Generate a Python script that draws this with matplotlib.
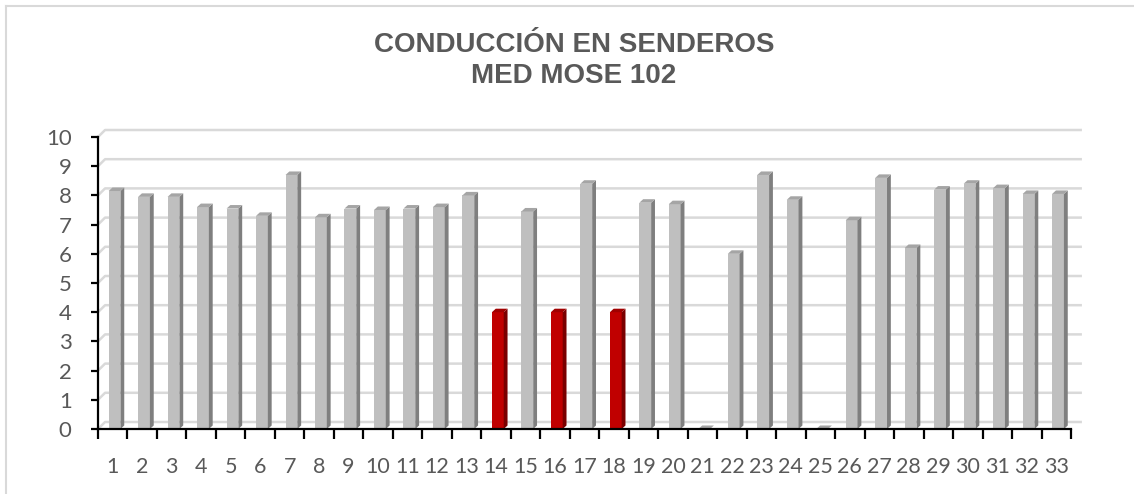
import matplotlib.pyplot as plt
from matplotlib.patches import Polygon
import numpy as np

# datos
categorias = [str(i) for i in range(1, 34)]
valores = [8.15, 7.95, 7.95, 7.6, 7.55, 7.3, 8.7, 7.25, 7.55, 7.5, 7.55, 7.6, 8.0,
           4.0, 7.45, 4.0, 8.4, 4.0, 7.75, 7.7, 0.0, 6.0, 8.7, 7.85, 0.0, 7.15,
           8.6, 6.2, 8.2, 8.4, 8.25, 8.05, 8.05]
rojos = [14, 16, 18]

plt.rcParams['font.family'] = ['Lato', 'DejaVu Sans']
W, H = 1134, 494
fig = plt.figure(figsize=(W / 100, H / 100), dpi=100)

# ejes en pixeles
x0, x1 = 98, 1071
y0, y10 = 429, 137
ax = fig.add_axes([x0 / W, 1 - y0 / H, (x1 - x0) / W, (y0 - y10) / H])
ax.set_xlim(0.5, 33.5)
ax.set_ylim(0, 10)

# pared del fondo: lineas de cuadricula desplazadas
gdx, gdy = 0.24, 0.24
for v in range(0, 11):
    ax.plot([0.5, 0.5 + gdx, 33.87], [v, v + gdy, v + gdy], color='#D9D9D9',
            lw=1.8, clip_on=False, zorder=1, solid_capstyle='butt')

# barras 3D
bw = 0.4
sdx, sdy = 0.13, 0.12
for i, (cat, v) in enumerate(zip(categorias, valores)):
    xc = i + 1 + 0.06
    xl, xr = xc - bw / 2, xc + bw / 2
    if int(cat) in rojos:
        front, side, top = '#C00000', '#7A0000', '#A00000'
    else:
        front, side, top = '#BFBFBF', '#7F7F7F', '#A5A5A5'
    if v > 0:
        ax.bar(xc, v, width=bw, color=front, zorder=3)
        ax.add_patch(Polygon([(xr, 0), (xr + sdx, sdy), (xr + sdx, v + sdy), (xr, v)],
                             closed=True, facecolor=side, edgecolor='none', zorder=3))
    ax.add_patch(Polygon([(xl, v), (xr, v), (xr + sdx, v + sdy), (xl + sdx, v + sdy)],
                         closed=True, facecolor=top, edgecolor='none', zorder=3,
                         clip_on=False))

# ejes
for s in ['top', 'right']:
    ax.spines[s].set_visible(False)
ax.spines['left'].set_linewidth(1.6)
ax.spines['bottom'].set_linewidth(1.6)
ax.spines['left'].set_zorder(5)
ax.spines['bottom'].set_zorder(5)
ax.set_yticks(range(0, 11))
ax.tick_params(axis='y', length=5, width=1.6, labelsize=16, labelcolor='#595959', pad=14)
ax.set_xticks(np.arange(0.5, 34, 1), minor=False)
ax.set_xticklabels([])
ax.set_xticks(np.arange(1, 34), minor=True)
ax.set_xticklabels(categorias, minor=True)
ax.tick_params(axis='x', which='major', length=7, width=1.6, direction='out')
ax.tick_params(axis='x', which='minor', length=0, labelsize=15.5, labelcolor='#595959', pad=20)
ax.patch.set_visible(False)

# titulo
fig.text(574 / W, 1 - 45 / H, 'CONDUCCIÓN EN SENDEROS', ha='center', va='center',
         fontsize=20, fontweight='bold', color='#595959', family='Liberation Sans')
fig.text(574 / W, 1 - 76 / H, 'MED MOSE 102', ha='center', va='center',
         fontsize=20, fontweight='bold', color='#595959', family='Liberation Sans')

# borde del grafico
fig.add_artist(plt.Line2D([6 / W, 6 / W], [0, 1 - 6 / H], color='#D9D9D9', lw=1.5))
fig.add_artist(plt.Line2D([6 / W, 1], [1 - 6 / H, 1 - 6 / H], color='#D9D9D9', lw=1.5))

fig.savefig('out.png', dpi=100)
